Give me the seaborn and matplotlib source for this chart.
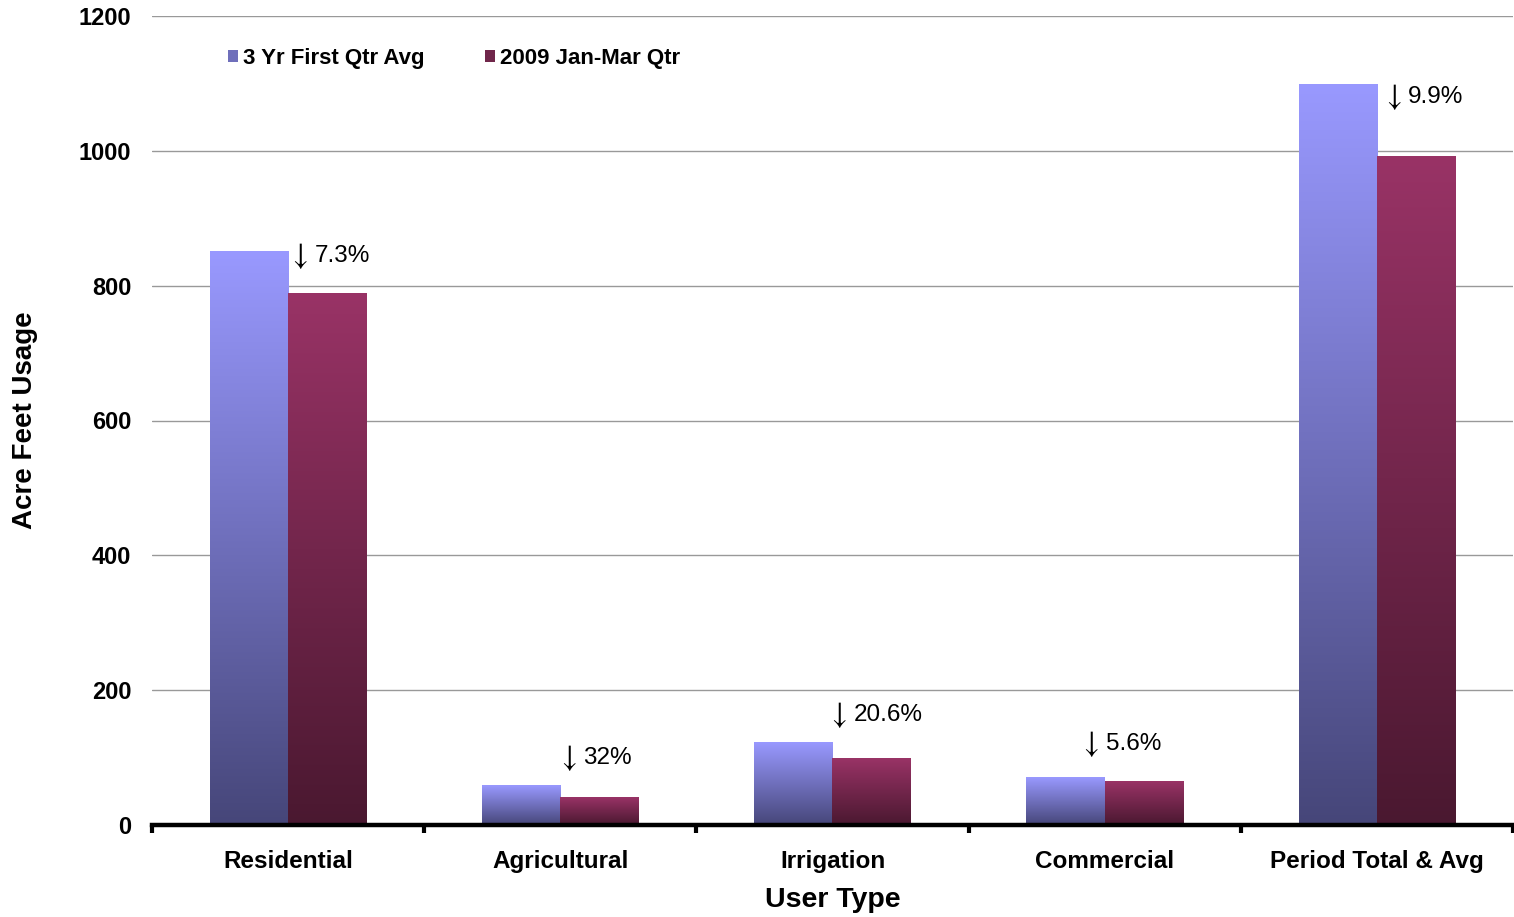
import numpy as np
import pandas as pd
import matplotlib
matplotlib.use("Agg")
import matplotlib.pyplot as plt
import seaborn as sns
from matplotlib.colors import LinearSegmentedColormap
from matplotlib.patches import Patch

categories = ["Residential", "Agricultural", "Irrigation", "Commercial", "Period Total & Avg"]
series_names = ["3 Yr First Qtr Avg", "2009 Jan-Mar Qtr"]
avg_3yr = [850, 59, 123, 70, 1099]
q_2009 = [789, 41, 98, 65, 991]
change_pct = ["7.3%", "32%", "20.6%", "5.6%", "9.9%"]
y_ticks = [0, 200, 400, 600, 800, 1000, 1200]

df = pd.DataFrame({
    "User Type": categories * 2,
    "Series": [series_names[0]] * 5 + [series_names[1]] * 5,
    "Value": avg_3yr + q_2009,
})

sns.set_theme(style="white")
plt.rcParams["font.family"] = ["Liberation Sans", "DejaVu Sans"]
plt.rcParams["text.color"] = "black"
plt.rcParams["xtick.color"] = "black"
plt.rcParams["ytick.color"] = "black"
plt.rcParams["axes.labelcolor"] = "black"

fig = plt.figure(figsize=(15.14, 9.17), dpi=100)
ax = fig.add_axes([152 / 1514, 1 - 825 / 917, (1513 - 152) / 1514, (825 - 16) / 917])

top_colors = ["#9999FF", "#993366"]
bot_colors = ["#464679", "#4A1830"]

sns.barplot(data=df, x="User Type", y="Value", hue="Series", order=categories,
            hue_order=series_names, palette=top_colors, width=0.575,
            saturation=1, ax=ax, legend=False)

ax.set_ylim(0, 1200)
ax.set_xlim(-0.5, 4.5)

# gradient fill for each bar
for i, patch in enumerate(ax.patches):
    s = 0 if i < len(categories) else 1
    cmap = LinearSegmentedColormap.from_list("g%d" % s, [bot_colors[s], top_colors[s]])
    x0 = patch.get_x()
    w = patch.get_width()
    h = patch.get_height()
    grad = np.linspace(0, 1, 256).reshape(-1, 1)
    ax.imshow(grad, cmap=cmap, origin="lower", extent=[x0, x0 + w, 0, h],
              aspect="auto", zorder=2, interpolation="bicubic")
    patch.set_visible(False)

ax.set_ylim(0, 1200)
ax.set_xlim(-0.5, 4.5)

# grid
ax.set_yticks(y_ticks)
ax.yaxis.grid(True, color="#999999", linewidth=1.0)
ax.set_axisbelow(True)
for sp in ["left", "right", "top"]:
    ax.spines[sp].set_visible(False)
ax.spines["bottom"].set_color("black")
ax.spines["bottom"].set_linewidth(3.2)
ax.spines["bottom"].set_zorder(5)

ax.tick_params(axis="y", length=0, labelsize=17, pad=15)
ax.tick_params(axis="x", which="major", length=0, labelsize=17.5, pad=18)
ax.set_xticks(np.arange(-0.5, 5.0, 1.0), minor=True)
ax.tick_params(axis="x", which="minor", bottom=True, length=6, width=3,
               direction="out", color="black")
for lab in ax.get_xticklabels() + ax.get_yticklabels():
    lab.set_fontweight("bold")

ax.set_xlabel("User Type", fontsize=20.5, fontweight="bold", va="center")
ax.xaxis.set_label_coords(0.5, (825 - 900) / 809)
ax.set_ylabel("Acre Feet Usage", fontsize=20, fontweight="bold", va="center")
ax.yaxis.set_label_coords((25 - 152) / 1362, 0.5)

# change annotations: down arrow + percentage
ann_dx = [0.037, 0.023, 0.018, -0.058, 0.054]
ann_y = [844, 99, 163, 120, 1080]
for i, pct in enumerate(change_pct):
    ax.text(i + ann_dx[i], ann_y[i], r"$\downarrow$", fontsize=22, ha="center",
            va="center", math_fontfamily="stix", color="black", zorder=6)
    ax.annotate(pct, xy=(i + ann_dx[i], ann_y[i]), xytext=(12, 0),
                textcoords="offset points", fontsize=17.5, ha="left", va="center",
                color="black", zorder=6)

# legend
mid_colors = ["#6F6FBB", "#70264A"]
handles = [Patch(facecolor=mid_colors[k], edgecolor="none") for k in range(2)]
leg = ax.legend(handles, series_names, loc="upper left", bbox_to_anchor=(0.041, 0.985),
                ncol=2, frameon=False, handlelength=0.45, handleheight=0.45,
                handletextpad=0.25, columnspacing=2.7,
                prop={"weight": "bold", "size": 16})
for t in leg.get_texts():
    t.set_color("black")

fig.savefig("out.png", dpi=100)
